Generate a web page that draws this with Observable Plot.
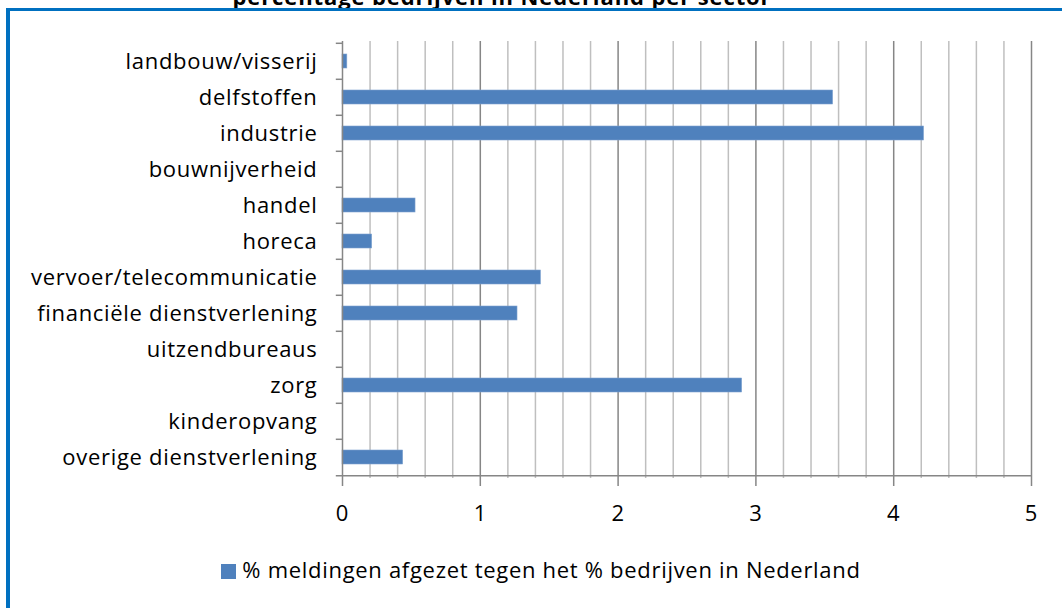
<!DOCTYPE html>
<html>
<head>
<meta charset="utf-8">
<script src="https://cdn.jsdelivr.net/npm/d3@7"></script>
<script src="https://cdn.jsdelivr.net/npm/@observablehq/plot@0.6"></script>
<style>
  html, body { margin: 0; padding: 0; background: #fff; }
  #wrap { position: relative; width: 1062px; height: 608px; overflow: hidden; background: #fff; font-family: "Open Sans", Lato, sans-serif; letter-spacing: 0.7px; }
  #chart { position: absolute; left: 0; top: 0; }
  #title { position: absolute; left: 0; width: 1004px; top: -17px; text-align: center; font-weight: bold; font-size: 22px; letter-spacing: 0.9px; color: #000; line-height: 26px; }
  #border { position: absolute; left: 6px; top: 8px; width: 1200px; height: 700px; border-left: 4px solid #0070C0; border-top: 3px solid #0070C0; }
  #legend { position: absolute; left: 0; width: 1082px; top: 556px; text-align: center; font-size: 22px; color: #000; line-height: 26px; }
  #legend .sw { display: inline-block; width: 15px; height: 15px; background: #4F81BD; margin-right: 6px; vertical-align: -1px; }
</style>
</head>
<body>
<div id="wrap">
  <div id="title">percentage bedrijven in Nederland per sector</div>
  <div id="chart"></div>
  <div id="border"></div>
  <div id="legend"><span class="sw"></span><span id="legtext"></span></div>
</div>
<script>
const sectors = [
  "landbouw/visserij",
  "delfstoffen",
  "industrie",
  "bouwnijverheid",
  "handel",
  "horeca",
  "vervoer/telecommunicatie",
  "financiële dienstverlening",
  "uitzendbureaus",
  "zorg",
  "kinderopvang",
  "overige dienstverlening"
];
const values = [0.035, 3.56, 4.22, 0, 0.53, 0.215, 1.44, 1.27, 0, 2.90, 0, 0.44];
const seriesName = "% meldingen afgezet tegen het % bedrijven in Nederland";
const xTicks = [0, 1, 2, 3, 4, 5];
const minorTicks = [0.2, 0.4, 0.6, 0.8, 1.2, 1.4, 1.6, 1.8, 2.2, 2.4, 2.6, 2.8, 3.2, 3.4, 3.6, 3.8, 4.2, 4.4, 4.6, 4.8];

const data = sectors.map((s, i) => ({sector: s, value: values[i]}));

const marginTop = 41, marginBottom = 62, height = 540;
const step = (height - marginTop - marginBottom) / sectors.length;
const axisColor = "#868686";

const chart = Plot.plot({
  width: 1062,
  height,
  marginLeft: 342,
  marginRight: 31,
  marginTop,
  marginBottom,
  style: {fontFamily: "'Open Sans', Lato, sans-serif", fontSize: "22px", letterSpacing: "0.7px", color: "#000", background: "transparent"},
  x: {domain: [0, 5]},
  y: {domain: sectors, paddingInner: 0.61, paddingOuter: 0.305},
  marks: [
    Plot.ruleX(minorTicks, {stroke: "#BFBFBF", strokeWidth: 1.5}),
    Plot.ruleX(xTicks.slice(1), {stroke: axisColor, strokeWidth: 1.5}),
    Plot.barX(data, {x: "value", y: "sector", fill: "#4F81BD", stroke: "#7FA2CF", strokeWidth: 0.6}),
    Plot.ruleX([0], {stroke: axisColor, strokeWidth: 1.5}),
    Plot.ruleY(sectors, {y: d => d, x1: -0.045, x2: 0, dy: -step / 2, stroke: axisColor, strokeWidth: 1.5, clip: false}),
    Plot.ruleY(sectors.slice(-1), {y: d => d, x1: -0.045, x2: 5, dy: step / 2, stroke: axisColor, strokeWidth: 1.5, clip: false}),
    Plot.axisY({tickSize: 0, tickPadding: 25, fill: "#000", fontSize: 22, label: null}),
    Plot.axisX({ticks: xTicks, tickSize: 8, tickPadding: 19, stroke: axisColor, strokeWidth: 1.5, fill: "#000", fontSize: 22, tickFormat: d => String(d), label: null})
  ]
});
document.getElementById("chart").appendChild(chart);
document.getElementById("legtext").textContent = seriesName;
</script>
</body>
</html>
